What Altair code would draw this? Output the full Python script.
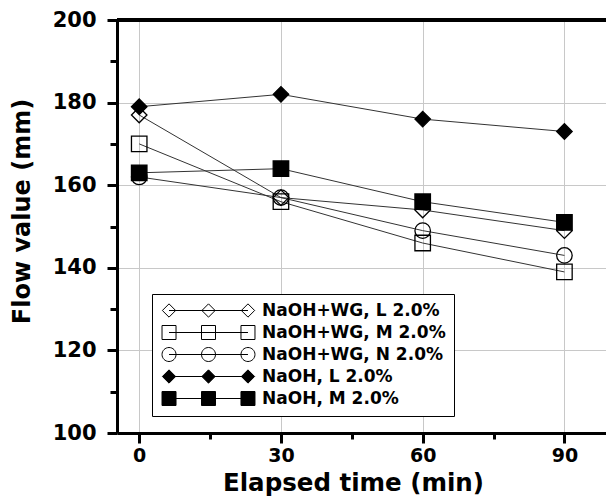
import altair as alt
import pandas as pd

# ---- data ----
times = [0, 30, 60, 90]
series_names = ["NaOH+WG, L 2.0%", "NaOH+WG, M 2.0%", "NaOH+WG, N 2.0%",
                "NaOH, L 2.0%", "NaOH, M 2.0%"]
wg_l = [177, 157, 154, 149]
wg_m = [170, 156, 146, 139]
wg_n = [162, 157, 149, 143]
naoh_l = [179, 182, 176, 173]
naoh_m = [163, 164, 156, 151]
all_values = [wg_l, wg_m, wg_n, naoh_l, naoh_m]

y_ticks = list(range(100, 201, 10))
x_ticks = [0, 15, 30, 45, 60, 75, 90]

rows = []
for order, (name, vals) in enumerate(zip(series_names, all_values)):
    for t, v in zip(times, vals):
        rows.append({"series": name, "order": order, "t": t, "v": v})
df = pd.DataFrame(rows)

# ---- styles ----
plot_shapes = ["diamond", "square", "circle", "diamond", "square"]
fills = ["transparent", "transparent", "transparent", "black", "black"]
strokes = ["black"] * 5
FONT = "DejaVu Sans"
W, H = 489, 413

centers = [-5.64, 0, 5.64]


def legend_path(kind):
    parts = [f"M{centers[0]},0H{centers[-1]}"]
    for c in centers:
        if kind == "diamond":
            parts.append(f"M{c-0.95},0L{c},-0.95L{c+0.95},0L{c},0.95Z")
        elif kind == "square":
            parts.append(f"M{c-1},-1H{c+1}V1H{c-1}Z")
        else:
            parts.append(f"M{c-1},0A1,1 0 1 1 {c+1},0A1,1 0 1 1 {c-1},0Z")
    return "".join(parts)


legend_shapes = [legend_path(k) for k in plot_shapes]

x_scale = alt.Scale(domain=[-4.7, 98.8], nice=False, zero=False)
y_scale = alt.Scale(domain=[100, 200], nice=False, zero=False)

x_axis = alt.Axis(
    values=x_ticks,
    labelExpr="datum.value % 30 === 0 ? datum.label : ''",
    tickSize={"condition": {"test": "datum.value % 30 === 0", "value": 10}, "value": 6},
    gridOpacity={"condition": {"test": "datum.value % 30 === 0", "value": 1}, "value": 0},
    title="Elapsed time (min)",
    titleFontSize=24.5,
    titleX=236,
    labelFontSize=19,
    labelPadding=3,
    titlePadding=6,
    labelOverlap=False,
    labelFlush=False,
)
y_axis = alt.Axis(
    values=y_ticks,
    labelExpr="datum.value % 20 === 0 ? datum.label : ''",
    tickSize={"condition": {"test": "datum.value % 20 === 0", "value": 10}, "value": 7},
    gridOpacity={"condition": {"test": "datum.value % 20 === 0", "value": 1}, "value": 0},
    title="Flow value (mm)",
    titleFontSize=24,
    titleY=191,
    labelFontSize=21,
    labelPadding=11,
    titlePadding=18,
    labelOverlap=False,
)

base = alt.Chart(df)

lines = base.mark_line(color="#333333", strokeWidth=1).encode(
    x=alt.X("t:Q", scale=x_scale, axis=x_axis),
    y=alt.Y("v:Q", scale=y_scale, axis=y_axis),
    detail="series:N",
    order="t:Q",
)

# top frame line of the plot area
frame_top = alt.Chart(df).mark_rule(color="black", strokeWidth=3).encode(
    x=alt.value(0), x2=alt.value(W), y=alt.value(0)
)

points = base.mark_point(filled=True, stroke="black", strokeWidth=1.3, size=240, opacity=1).encode(
    x=alt.X("t:Q", scale=x_scale),
    y=alt.Y("v:Q", scale=y_scale),
    shape=alt.Shape("series:N", scale=alt.Scale(domain=series_names, range=plot_shapes), legend=None),
    fill=alt.Fill("series:N", scale=alt.Scale(domain=series_names, range=fills), legend=None),
    order="order:Q",
)

leg = alt.Legend(
    title=None, orient="none", legendX=35, legendY=274,
    strokeColor="black", fillColor="white", padding=8, cornerRadius=0,
    labelFont=FONT, labelFontWeight="bold", labelFontSize=17, labelColor="black",
    symbolSize=196, symbolStrokeWidth=1, symbolOpacity=1,
    symbolOffset=40, labelOffset=45, rowPadding=3, labelLimit=400,
)

legend_layer = base.mark_point(filled=False, strokeWidth=1, opacity=1).encode(
    x=alt.X("t:Q", scale=x_scale),
    y=alt.Y("v:Q", scale=y_scale),
    shape=alt.Shape("series:N", scale=alt.Scale(domain=series_names, range=legend_shapes), legend=leg),
    fill=alt.Fill("series:N", scale=alt.Scale(domain=series_names, range=fills), legend=leg),
    stroke=alt.Stroke("series:N", scale=alt.Scale(domain=series_names, range=strokes), legend=leg),
).transform_filter("false")

chart = alt.layer(lines, frame_top, points, legend_layer).resolve_scale(
    shape="independent", fill="independent", stroke="independent"
).properties(
    width=W, height=H,
    padding={"left": 117, "top": 20, "right": 0, "bottom": 68},
    autosize=alt.AutoSizeParams(type="none"),
).configure_view(stroke=None).configure_axis(
    domainColor="black", domainWidth=3,
    tickColor="black", tickWidth=3,
    gridColor="#c8c8c8", gridWidth=1,
    labelFont=FONT, labelFontWeight="bold", labelColor="black",
    titleFont=FONT, titleFontWeight="bold", titleColor="black",
)

chart.save("out.html", embed_options={"renderer": "svg", "actions": False})
